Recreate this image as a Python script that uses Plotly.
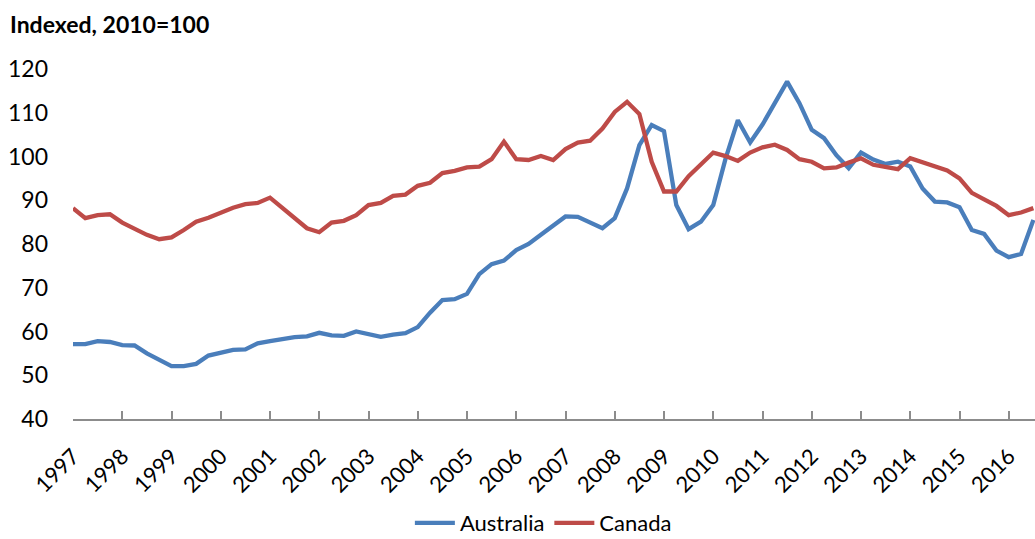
import plotly.graph_objects as go

quarters = [1997 + i * 0.25 for i in range(79)]  # 1997Q1 .. 2016Q3

australia = [
    57.1, 57.1, 57.8, 57.6,   # 1997
    56.9, 56.8, 55.0, 53.5,   # 1998
    52.1, 52.1, 52.6, 54.5,   # 1999
    55.2, 55.8, 55.9, 57.3,   # 2000
    57.8, 58.3, 58.7, 58.9,   # 2001
    59.7, 59.1, 59.0, 60.0,   # 2002
    59.4, 58.8, 59.3, 59.6,   # 2003
    61.0, 64.3, 67.2, 67.4,   # 2004
    68.6, 73.1, 75.4, 76.2,   # 2005
    78.6, 80.0, 82.1, 84.3,   # 2006
    86.3, 86.2, 85.0, 83.6,   # 2007
    85.9, 92.7, 102.6, 107.2, # 2008
    105.8, 88.9, 83.4, 85.1,  # 2009
    88.9, 99.5, 108.3, 103.2, # 2010
    107.3, 112.3, 117.1, 112.2, # 2011
    106.1, 104.2, 100.3, 97.3,  # 2012
    100.9, 99.3, 98.3, 98.8,    # 2013
    97.7, 92.7, 89.7, 89.5,     # 2014
    88.4, 83.2, 82.3, 78.5,     # 2015
    77.0, 77.7, 85.5,           # 2016
]

canada = [
    88.2, 85.9, 86.6, 86.8,   # 1997
    84.9, 83.6, 82.1, 81.1,   # 1998
    81.5, 83.2, 85.1, 86.0,   # 1999
    87.2, 88.3, 89.1, 89.4,   # 2000
    90.6, 88.2, 86.1, 83.6,   # 2001
    82.7, 84.9, 85.3, 86.6,   # 2002
    88.9, 89.4, 91.0, 91.3,   # 2003
    93.3, 94.0, 96.2, 96.7,   # 2004
    97.5, 97.7, 99.4, 103.4,  # 2005
    99.4, 99.2, 100.1, 99.2,  # 2006
    101.7, 103.2, 103.6, 106.4, # 2007
    110.2, 112.5, 109.7, 98.8,  # 2008
    92.0, 92.0, 95.5, 98.3,     # 2009
    100.9, 100.1, 99.0, 100.9,  # 2010
    102.1, 102.7, 101.5, 99.4,  # 2011
    98.8, 97.3, 97.5, 98.6,     # 2012
    99.6, 98.1, 97.5, 97.1,     # 2013
    99.6, 98.6, 97.7, 96.8,     # 2014
    95.0, 91.7, 90.2, 88.7,     # 2015
    86.6, 87.2, 88.2,           # 2016
]

year_ticks = list(range(1997, 2017))
year_labels = [str(y) for y in year_ticks]

FONT = "Lato"

fig = go.Figure()
fig.add_trace(go.Scatter(x=quarters, y=australia, mode="lines", name="Australia",
                         line=dict(color="#4A7EBB", width=4.3)))
fig.add_trace(go.Scatter(x=quarters, y=canada, mode="lines", name="Canada",
                         line=dict(color="#BE4B48", width=4.3)))

fig.update_layout(
    width=1035, height=539,
    margin=dict(l=73, r=0, t=69, b=120),
    paper_bgcolor="white", plot_bgcolor="white",
    font=dict(family=FONT, size=22, color="black"),
    title=dict(text="<b>Indexed, 2010=100</b>", x=10/1035, xanchor="left",
               xref="container", y=1 - 25/539, yref="container", yanchor="middle",
               font=dict(family=FONT, size=23, color="black")),
    showlegend=True,
    legend=dict(orientation="h", xref="container", x=0.525, xanchor="center",
                yref="container", y=1 - 523/539, yanchor="middle",
                font=dict(family=FONT, size=22, color="black"),
                itemwidth=40, tracegroupgap=0),
    xaxis=dict(range=[1997, 2016.533], tickmode="array", tickvals=year_ticks,
               ticktext=year_labels, tickangle=-45, showgrid=False, zeroline=False,
               showline=True, linecolor="#8C8C8C", linewidth=1.5,
               ticks="inside", ticklen=8, tickcolor="#8C8C8C", tickwidth=1.5,
               ticklabelstandoff=14,
               tickfont=dict(family=FONT, size=22, color="black")),
    yaxis=dict(range=[40, 120], tickvals=[40, 50, 60, 70, 80, 90, 100, 110, 120],
               showgrid=False, zeroline=False, showline=False,
               ticks="", ticklabelstandoff=24,
               tickfont=dict(family=FONT, size=23, color="black")),
)

fig.write_html("out.html", config={"displayModeBar": False},
               post_script="document.body.style.margin='0';document.body.style.overflow='hidden';")
